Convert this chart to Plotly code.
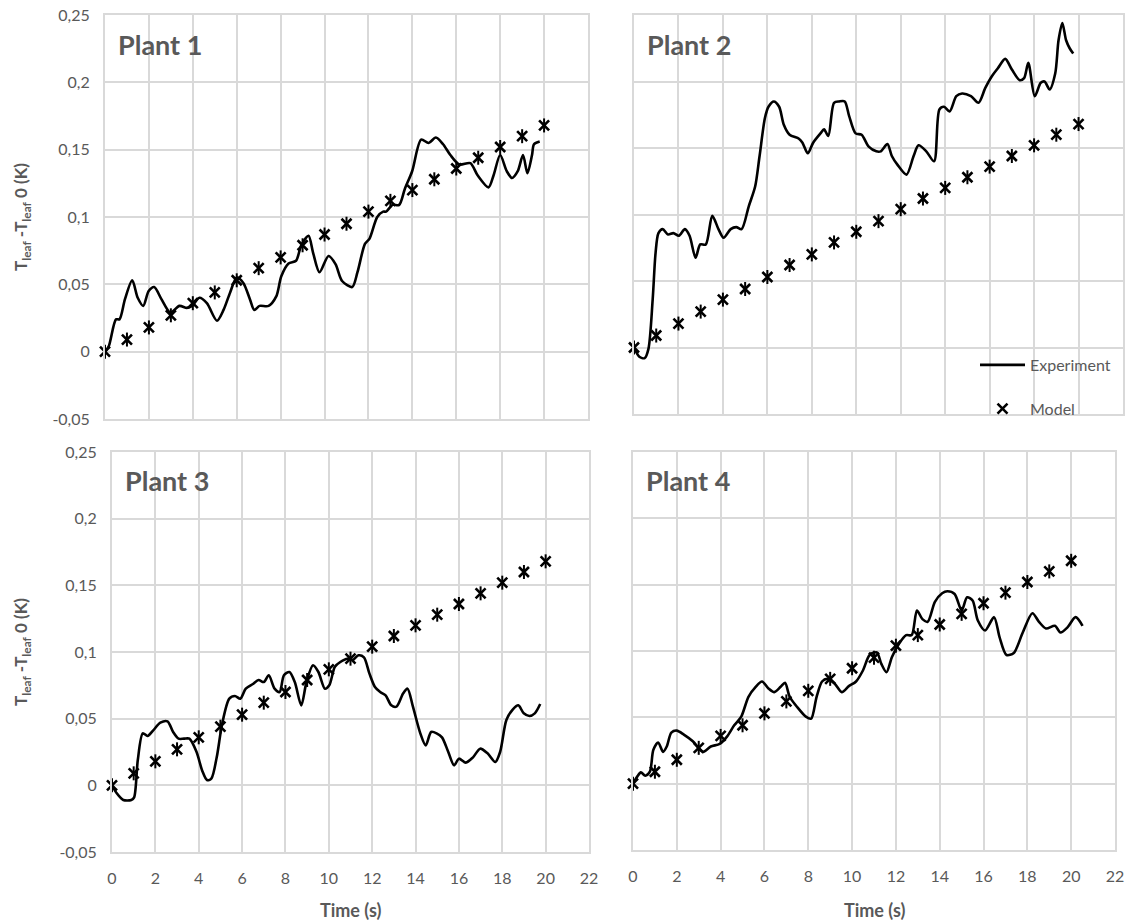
import plotly.graph_objects as go

W, H = 1131, 922

# model points (same for all plants), one per second
time_model = list(range(21))
model = [0, 0.009, 0.018, 0.027, 0.036, 0.044, 0.053, 0.062, 0.070, 0.079, 0.087,
         0.095, 0.104, 0.112, 0.120, 0.128, 0.136, 0.144, 0.152, 0.160, 0.168]

# experiment curves, (time, dT) pairs
plant1_exp = [(0, 0), (0.17, 0.004), (0.5, 0.024), (0.66, 0.024), (0.91, 0.039), (1.24, 0.053),
              (1.49, 0.040), (1.74, 0.034), (1.99, 0.045), (2.24, 0.048), (2.57, 0.039),
              (2.98, 0.029), (3.39, 0.034), (3.73, 0.0325), (3.97, 0.034), (4.3, 0.040),
              (4.64, 0.036), (5.1, 0.023), (5.4, 0.031), (5.7, 0.044), (6.0, 0.055),
              (6.3, 0.051), (6.6, 0.039), (6.8, 0.031), (7.04, 0.034), (7.45, 0.034),
              (7.8, 0.041), (8.03, 0.056), (8.36, 0.0655), (8.7, 0.0675), (8.94, 0.079),
              (9.27, 0.086), (9.47, 0.074), (9.77, 0.059), (10.18, 0.071), (10.5, 0.065),
              (10.8, 0.0525), (11.26, 0.048), (11.5, 0.059), (11.84, 0.080), (12.05, 0.084),
              (12.4, 0.100), (12.67, 0.104), (12.8, 0.104), (13.1, 0.109), (13.4, 0.109),
              (13.66, 0.121), (13.99, 0.134), (14.4, 0.1575), (14.74, 0.155), (15.07, 0.159),
              (15.4, 0.154), (15.73, 0.146), (16.14, 0.139), (16.64, 0.140), (16.97, 0.131),
              (17.47, 0.122), (17.7, 0.131), (18.0, 0.146), (18.3, 0.134), (18.54, 0.129),
              (18.8, 0.134), (19.04, 0.146), (19.24, 0.1325), (19.45, 0.146), (19.54, 0.154),
              (19.8, 0.156)]

plant2_exp = [(0, 0), (0.24, -0.007), (0.48, -0.008), (0.65, -0.001), (0.84, 0.036), (0.97, 0.071),
              (1.1, 0.086), (1.29, 0.089), (1.53, 0.085), (1.77, 0.086), (2.02, 0.084),
              (2.29, 0.089), (2.5, 0.084), (2.77, 0.0675), (2.98, 0.0775), (3.23, 0.0775),
              (3.52, 0.099), (3.8, 0.089), (4.03, 0.0825), (4.35, 0.089), (4.6, 0.0905),
              (4.84, 0.089), (5.16, 0.106), (5.45, 0.121), (5.65, 0.144), (5.89, 0.1725),
              (6.05, 0.181), (6.29, 0.185), (6.53, 0.181), (6.74, 0.1675), (7.0, 0.160),
              (7.42, 0.157), (7.58, 0.154), (7.82, 0.146), (8.06, 0.154), (8.39, 0.161),
              (8.55, 0.164), (8.74, 0.159), (9.0, 0.184), (9.23, 0.185), (9.48, 0.185),
              (9.68, 0.174), (9.97, 0.161), (10.24, 0.160), (10.56, 0.151), (10.9, 0.1475),
              (11.1, 0.1475), (11.4, 0.153), (11.6, 0.144), (11.85, 0.1375), (12.26, 0.130),
              (12.58, 0.144), (12.8, 0.152), (13.15, 0.1475), (13.5, 0.140), (13.74, 0.179),
              (13.95, 0.181), (14.2, 0.1775), (14.5, 0.189), (14.76, 0.191), (15.16, 0.189),
              (15.5, 0.184), (15.8, 0.195), (16.1, 0.204), (16.37, 0.210), (16.7, 0.217),
              (17.0, 0.209), (17.35, 0.201), (17.55, 0.2025), (17.74, 0.214), (18.03, 0.189),
              (18.3, 0.199), (18.47, 0.200), (18.7, 0.194), (18.95, 0.206), (19.1, 0.231),
              (19.27, 0.244), (19.44, 0.231), (19.6, 0.225), (19.76, 0.221)]

plant3_exp = [(0, 0), (0.22, -0.006), (0.52, -0.011), (0.89, -0.011), (1.02, -0.009), (1.19, 0.019),
              (1.42, 0.039), (1.64, 0.037), (1.89, 0.041), (2.23, 0.047), (2.56, 0.048),
              (2.82, 0.040), (3.07, 0.035), (3.32, 0.035), (3.57, 0.035), (3.9, 0.025),
              (4.16, 0.011), (4.38, 0.004), (4.58, 0.005), (4.83, 0.021), (5.08, 0.046),
              (5.41, 0.065), (5.67, 0.067), (5.92, 0.065), (6.17, 0.0725), (6.5, 0.076),
              (6.76, 0.079), (7.0, 0.0775), (7.23, 0.0825), (7.5, 0.0725), (7.73, 0.070),
              (7.93, 0.0825), (8.18, 0.085), (8.43, 0.0775), (8.73, 0.060), (8.97, 0.0775),
              (9.27, 0.090), (9.52, 0.085), (9.82, 0.0725), (10.02, 0.075), (10.28, 0.089),
              (10.53, 0.0925), (10.86, 0.095), (11.1, 0.094), (11.37, 0.0975), (11.62, 0.096),
              (11.87, 0.084), (12.12, 0.074), (12.37, 0.070), (12.62, 0.0675), (12.88, 0.060),
              (13.12, 0.059), (13.43, 0.069), (13.63, 0.0725), (13.88, 0.059), (14.22, 0.039),
              (14.47, 0.030), (14.72, 0.040), (14.97, 0.039), (15.22, 0.036), (15.51, 0.025),
              (15.78, 0.015), (16.0, 0.020), (16.31, 0.017), (16.65, 0.021), (16.98, 0.0275),
              (17.32, 0.024), (17.68, 0.0175), (17.9, 0.025), (18.19, 0.049), (18.49, 0.057),
              (18.74, 0.060), (18.99, 0.054), (19.25, 0.052), (19.5, 0.054), (19.75, 0.061)]

plant4_exp = [(0, 0), (0.2, 0.0055), (0.36, 0.0085), (0.56, 0.006), (0.77, 0.009), (0.93, 0.0255),
              (1.15, 0.031), (1.37, 0.024), (1.54, 0.028), (1.75, 0.0385), (2.0, 0.040),
              (2.32, 0.037), (2.73, 0.032), (3.18, 0.024), (3.55, 0.028), (3.96, 0.030),
              (4.29, 0.0355), (4.62, 0.044), (4.94, 0.0505), (5.27, 0.0655), (5.6, 0.073),
              (5.89, 0.077), (6.17, 0.072), (6.45, 0.069), (6.74, 0.073), (6.94, 0.076),
              (7.15, 0.0655), (7.48, 0.058), (7.89, 0.0505), (8.13, 0.049), (8.38, 0.0655),
              (8.63, 0.077), (8.87, 0.079), (9.2, 0.0755), (9.53, 0.069), (9.85, 0.0735),
              (10.18, 0.077), (10.5, 0.0855), (10.8, 0.097), (11.13, 0.099), (11.33, 0.0905),
              (11.57, 0.084), (11.82, 0.0955), (12.14, 0.1055), (12.47, 0.112), (12.72, 0.112),
              (12.96, 0.1305), (13.21, 0.124), (13.45, 0.122), (13.78, 0.137), (14.11, 0.1435),
              (14.35, 0.145), (14.68, 0.143), (15.0, 0.1305), (15.25, 0.1405), (15.5, 0.138),
              (15.74, 0.123), (16.07, 0.1155), (16.48, 0.1255), (16.73, 0.1105), (17.05, 0.097),
              (17.38, 0.0985), (17.79, 0.114), (18.23, 0.1285), (18.53, 0.122), (18.85, 0.117),
              (19.26, 0.119), (19.51, 0.114), (19.84, 0.118), (20.2, 0.1255), (20.52, 0.119)]

plant_names = ["Plant 1", "Plant 2", "Plant 3", "Plant 4"]
x_ticks = list(range(0, 23, 2))
y_ticks = [-0.05, 0, 0.05, 0.1, 0.15, 0.2, 0.25]
y_labels = ["-0,05", "0", "0,05", "0,1", "0,15", "0,2", "0,25"]

GRID = "#d9d9d9"
TXT = "#595959"
FONT = "Lato"


def px_x(p):
    return p / W


def px_y(p):
    return 1 - p / H


# plot areas in pixels: (left, right, top, bottom)
panels = [
    (105, 588, 15, 419),
    (634, 1123, 15, 414),
    (112, 589, 452, 852),
    (633, 1115, 452, 850),
]
experiments = [plant1_exp, plant2_exp, plant3_exp, plant4_exp]

fig = go.Figure()
layout = {}
for i, (exp, box) in enumerate(zip(experiments, panels)):
    n = "" if i == 0 else str(i + 1)
    xa, ya = "x" + n, "y" + n
    t = [p[0] for p in exp]
    v = [p[1] for p in exp]
    first = i == 0
    fig.add_trace(go.Scatter(
        x=t, y=v, mode="lines", name="Experiment", xaxis=xa, yaxis=ya,
        line=dict(color="black", width=2.6, shape="spline", smoothing=0.8),
        showlegend=first, legendgroup="exp",
    ))
    fig.add_trace(go.Scatter(
        x=time_model, y=model, mode="markers", name="Model", xaxis=xa, yaxis=ya,
        marker=dict(symbol="x-thin", size=10, line=dict(color="black", width=2.6)),
        showlegend=first, legendgroup="mod", cliponaxis=False,
    ))
    # vertical stroke of the star marker
    fig.add_trace(go.Scatter(
        x=time_model, y=model, mode="markers", xaxis=xa, yaxis=ya,
        marker=dict(symbol="line-ns", size=10, line=dict(color="black", width=2)),
        showlegend=False, cliponaxis=False, hoverinfo="skip",
    ))

    left, right, top, bottom = box
    bottom_row = i >= 2
    left_col = i % 2 == 0
    layout["xaxis" + n] = dict(
        domain=[px_x(left), px_x(right)], anchor=ya, range=[0, 22],
        tickvals=x_ticks, showticklabels=bottom_row, ticks="",
        ticklabelstandoff=11,
        showgrid=True, gridcolor=GRID, gridwidth=2,
        showline=True, linecolor=GRID, linewidth=2, mirror=True,
        zeroline=False, automargin=False,
        tickfont=dict(family=FONT, size=16, color=TXT),
    )
    layout["yaxis" + n] = dict(
        domain=[px_y(bottom), px_y(top)], anchor=xa, range=[-0.05, 0.25],
        tickvals=y_ticks, ticktext=y_labels, showticklabels=left_col, ticks="",
        ticklabelstandoff=10,
        showgrid=True, gridcolor=GRID, gridwidth=2,
        showline=True, linecolor=GRID, linewidth=2, mirror=True,
        zeroline=False, automargin=False,
        tickfont=dict(family=FONT, size=16, color=TXT),
    )

annotations = []
for i, name in enumerate(plant_names):
    left, right, top, bottom = panels[i]
    annotations.append(dict(
        text="<b>%s</b>" % name, xref="paper", yref="paper",
        x=px_x(left + 11), y=px_y(top + 29), xanchor="left", yanchor="middle",
        showarrow=False, font=dict(family=FONT, size=27, color=TXT),
    ))
for i in (0, 2):
    left, right, top, bottom = panels[i]
    annotations.append(dict(
        text="<b>T<sub>leaf</sub> -T<sub>leaf</sub> 0 (K)</b>", xref="paper", yref="paper",
        x=px_x(22), y=px_y((top + bottom) / 2), textangle=-90,
        xanchor="center", yanchor="middle", showarrow=False,
        font=dict(family=FONT, size=17, color=TXT),
    ))
for i in (2, 3):
    left, right, top, bottom = panels[i]
    annotations.append(dict(
        text="<b>Time (s)</b>", xref="paper", yref="paper",
        x=px_x((left + right) / 2), y=px_y(910), xanchor="center", yanchor="middle",
        showarrow=False, font=dict(family=FONT, size=18, color=TXT),
    ))

fig.update_layout(
    **layout,
    annotations=annotations,
    width=W, height=H,
    margin=dict(l=0, r=0, t=0, b=0),
    paper_bgcolor="white", plot_bgcolor="white",
    separators=", ",
    font=dict(family=FONT, color=TXT),
    showlegend=True,
    legend=dict(
        x=px_x(975), y=px_y(348), xanchor="left", yanchor="top",
        bgcolor="rgba(0,0,0,0)", borderwidth=0,
        font=dict(family=FONT, size=16, color=TXT),
        itemwidth=45, tracegroupgap=20, traceorder="grouped",
    ),
)

# page body has an 8px default margin; drop it so the figure sits at 0,0
fig.write_html(
    "out.html",
    config={"displayModeBar": False},
    post_script="document.body.style.margin = '0';",
)
